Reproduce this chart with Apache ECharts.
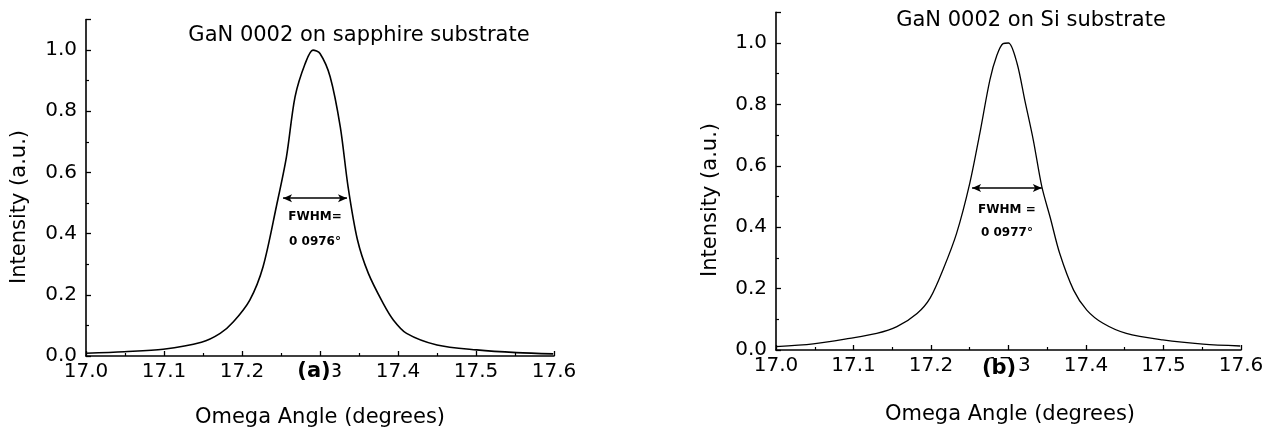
<!DOCTYPE html>
<html><head><meta charset="utf-8">
<script src="https://cdn.jsdelivr.net/npm/echarts@6/dist/echarts.min.js"></script>
<style>html,body{margin:0;padding:0;background:#fff}#c{width:1267px;height:434px}</style>
</head><body><div id="c"></div>
<script>
// ---- data ----
const titles = ['GaN 0002 on sapphire substrate', 'GaN 0002 on Si substrate'];
const panelLabels = ['(a)', '(b)'];
const xName = 'Omega Angle (degrees)';
const yName = 'Intensity (a.u.)';
const xTickLabels = ['17.0','17.1','17.2','17.3','17.4','17.5','17.6'];
const yTickLabels = ['0.0','0.2','0.4','0.6','0.8','1.0'];

const sapphireX = [17.000,17.049,17.099,17.148,17.172,17.189,17.210,17.227,17.244,17.257,17.268,17.281,17.291,17.300,17.313,17.326,17.336,17.348,17.362,17.381,17.394,17.411,17.450,17.501,17.552,17.599];
const sapphireY = [0.009,0.014,0.022,0.045,0.074,0.112,0.183,0.292,0.488,0.651,0.847,0.956,1.000,0.989,0.913,0.749,0.553,0.380,0.270,0.172,0.118,0.074,0.036,0.020,0.011,0.007];

const siX = [17.000,17.048,17.095,17.130,17.156,17.182,17.199,17.216,17.233,17.250,17.263,17.276,17.285,17.293,17.300,17.311,17.321,17.332,17.343,17.354,17.366,17.384,17.401,17.422,17.452,17.499,17.551,17.599];
const siY = [0.011,0.020,0.038,0.054,0.076,0.119,0.170,0.265,0.380,0.543,0.706,0.880,0.960,0.998,1.000,0.934,0.814,0.684,0.532,0.430,0.315,0.195,0.130,0.087,0.054,0.033,0.019,0.013];

// FWHM annotations: arrow start/end x, arrow y, text lines
const fwhmArrowX = [[17.2526, 17.3346], [17.2530, 17.3430]];
const fwhmArrowY = [0.516, 0.528];
const fwhmText1 = ['FWHM=', 'FWHM ='];
const fwhmText2 = ['0 0976°', '0 0977°'];
const fwhmTextX = [17.2936, 17.298];
const fwhmTextY1 = [0.454, 0.456];
const fwhmTextY2 = [0.373, 0.381];

// ---- chart ----
const FONT = 'DejaVu Sans';
const chart = echarts.init(document.getElementById('c'));

function zip(xs, ys){ return xs.map((x,i)=>[x, ys[i]]); }

const grids = [
  {left: 86, top: 19.5, width: 468, height: 336.5},
  {left: 776, top: 12.3, width: 465, height: 337.7}
];

function xAxis(i){
  return {
    type:'value', gridIndex:i, min:17.0, max:17.6, interval:0.1,
    axisLine:{show:true, onZero:false, lineStyle:{color:'#000', width:1.6}},
    axisTick:{show:true, inside:true, length:5, lineStyle:{color:'#000', width:1.3}},
    minorTick:{show:true, splitNumber:2, length:3, lineStyle:{color:'#000', width:1.2}},
    splitLine:{show:false},
    axisLabel:{color:'#000', fontFamily:FONT, fontSize:20, margin:6,
      formatter: v => { const k = Math.round((v-17.0)*10); return xTickLabels[k] || ''; }}
  };
}
function yAxis(i){
  return {
    type:'value', gridIndex:i, min:0, max:1.1, interval:0.2,
    axisLine:{show:true, onZero:false, lineStyle:{color:'#000', width:1.6}},
    axisTick:{show:true, inside:true, length:5, lineStyle:{color:'#000', width:1.3}},
    minorTick:{show:true, splitNumber:2, length:3, lineStyle:{color:'#000', width:1.2}},
    splitLine:{show:false},
    axisLabel:{color:'#000', fontFamily:FONT, fontSize:20, margin:9,
      formatter: v => { const k = Math.round(v/0.2); return Math.abs(v - k*0.2) < 1e-6 ? (yTickLabels[k] || '') : ''; }}
  };
}

function series(i, xs, ys, w){
  return {
    type:'line', xAxisIndex:i, yAxisIndex:i, data: zip(xs, ys),
    smooth:0.3, showSymbol:false, symbol:'none',
    lineStyle:{color:'#000', width:w},
    markLine:{
      silent:true, symbol:['arrow','arrow'], symbolSize:[6,9],
      lineStyle:{color:'#000', width:1.5, type:'solid'},
      label:{show:false},
      data:[[{coord:[fwhmArrowX[i][0], fwhmArrowY[i]]},{coord:[fwhmArrowX[i][1], fwhmArrowY[i]]}]]
    },
    markPoint:{
      silent:true, symbol:'circle', symbolSize:1, itemStyle:{color:'rgba(0,0,0,0)'},
      label:{show:true, position:'inside', color:'#000', fontFamily:FONT, fontWeight:'bold', fontSize:12,
        formatter: p => p.name},
      data:[
        {name: fwhmText1[i], coord:[fwhmTextX[i], fwhmTextY1[i]]},
        {name: fwhmText2[i], coord:[fwhmTextX[i], fwhmTextY2[i]]}
      ]
    }
  };
}

const textStyleBase = {fill:'#000', fontFamily:FONT};
const graphic = [
  {type:'text', x:359, y:36, style:Object.assign({text:titles[0], fontSize:21, align:'center', verticalAlign:'middle'}, textStyleBase)},
  {type:'text', x:1031, y:21, style:Object.assign({text:titles[1], fontSize:21, align:'center', verticalAlign:'middle'}, textStyleBase)},
  {type:'text', x:320, y:418, style:Object.assign({text:xName, fontSize:21, align:'center', verticalAlign:'middle'}, textStyleBase)},
  {type:'text', x:1010, y:415, style:Object.assign({text:xName, fontSize:21, align:'center', verticalAlign:'middle'}, textStyleBase)},
  {type:'text', x:20, y:207, rotation:Math.PI/2, style:Object.assign({text:yName, fontSize:21, align:'center', verticalAlign:'middle'}, textStyleBase)},
  {type:'text', x:711, y:200, rotation:Math.PI/2, style:Object.assign({text:yName, fontSize:21, align:'center', verticalAlign:'middle'}, textStyleBase)},
  {type:'text', x:314, y:372, z:100, style:Object.assign({text:panelLabels[0], fontSize:21, fontWeight:'bold', align:'center', verticalAlign:'middle', backgroundColor:'#fff', padding:[0,2]}, textStyleBase)},
  {type:'text', x:999, y:369, z:100, style:Object.assign({text:panelLabels[1], fontSize:21, fontWeight:'bold', align:'center', verticalAlign:'middle', backgroundColor:'#fff', padding:[0,1]}, textStyleBase)}
];

chart.setOption({
  animation:false,
  backgroundColor:'#fff',
  grid: grids,
  xAxis:[xAxis(0), xAxis(1)],
  yAxis:[yAxis(0), yAxis(1)],
  series:[series(0, sapphireX, sapphireY, 1.6), series(1, siX, siY, 1.3)],
  graphic: graphic
});
</script></body></html>
